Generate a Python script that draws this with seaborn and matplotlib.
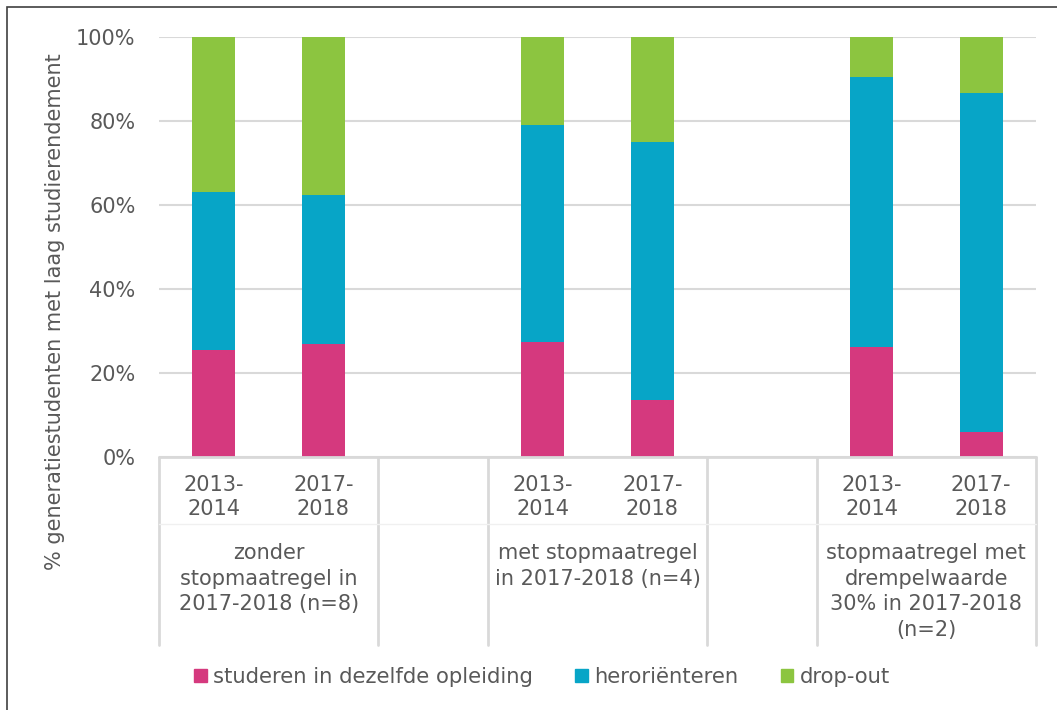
import numpy as np
import matplotlib.pyplot as plt
import matplotlib.patches as mpatches
import pandas as pd
import seaborn as sns

sns.set_theme(style="white")
plt.rcParams['font.family'] = ['DejaVu Sans']

# data (percentages)
positions = [0, 1, 3, 4, 6, 7]
years = ['2013-\n2014', '2017-\n2018'] * 3
groups = ['zonder\nstopmaatregel in\n2017-2018 (n=8)',
          'met stopmaatregel\nin 2017-2018 (n=4)',
          'stopmaatregel met\ndrempelwaarde\n30% in 2017-2018\n(n=2)']
studeren = [25.5, 26.9, 27.4, 13.6, 26.2, 6.0]
heroriënteren = [37.6, 35.5, 51.6, 61.4, 64.3, 80.7]
dropout = [36.9, 37.6, 21.0, 25.0, 9.5, 13.3]

series = ['studeren in dezelfde opleiding', 'heroriënteren', 'drop-out']
colors = ['#D5397E', '#07A5C7', '#8CC540']
text_col = '#595959'
grid_col = '#D9D9D9'

df = pd.DataFrame({'pos': positions, series[0]: studeren,
                   series[1]: heroriënteren, series[2]: dropout})

W, H = 1057, 710
fig = plt.figure(figsize=(W / 100, H / 100), dpi=100)
ax = fig.add_axes([159 / W, 1 - 457 / H, (1036 - 159) / W, (457 - 37) / H])

# stacked bars: draw cumulative totals from top to bottom
cum = df[series].cumsum(axis=1)
for s, c in reversed(list(zip(series, colors))):
    sns.barplot(x=df['pos'], y=cum[s], native_scale=True, color=c,
                width=0.39, saturation=1, ax=ax, linewidth=0, zorder=3)

ax.set_xlim(-0.5, 7.5)
ax.set_ylim(0, 100)
ax.set_yticks(np.arange(0, 101, 20))
ax.set_yticklabels([f'{v}%' for v in range(0, 101, 20)])
ax.yaxis.grid(True, color=grid_col, lw=1.5, zorder=0)
ax.xaxis.grid(False)
for sp in ax.spines.values():
    sp.set_visible(False)
ax.tick_params(axis='y', length=0, pad=17, labelsize=15, labelcolor=text_col)
ax.set_xticks(positions)
ax.set_xticklabels(years, fontsize=15, color=text_col, linespacing=1.25)
ax.tick_params(axis='x', length=0, pad=13)
ax.set_xlabel('')
ax.set_ylabel('')

# bottom axis line
ax.axhline(0, color=grid_col, lw=2, zorder=4, clip_on=False)

# group separators and faint divider line
trans = ax.get_xaxis_transform()
ax_h = (457 - 37)
for xs in [-0.5, 1.5, 2.5, 4.5, 5.5, 7.5]:
    ax.plot([xs, xs], [0, -(645 - 457) / ax_h], transform=trans,
            color=grid_col, lw=2, clip_on=False)
ax.plot([-0.5, 7.5], [-(524 - 457) / ax_h] * 2, transform=trans,
        color='#F0F0F0', lw=1, clip_on=False)

# group labels
for gx, label in zip([0.5, 3.5, 6.5], groups):
    ax.text(gx, -(543 - 457) / ax_h, label, transform=trans, ha='center',
            va='top', fontsize=15, color=text_col, linespacing=1.35)

# y label
fig.text(55 / W, 1 - 312 / H, '% generatiestudenten met laag studierendement',
         rotation=90, ha='center', va='center', fontsize=15, color=text_col)

# legend
handles = [mpatches.Patch(color=c, label=s) for s, c in zip(series, colors)]
fig.legend(handles=handles, loc='center', bbox_to_anchor=(542 / W, 1 - 677 / H),
           ncol=3, frameon=False, handlelength=0.6, handleheight=0.6,
           handletextpad=0.3, columnspacing=2.0,
           prop={'size': 15.2}, labelcolor=text_col)

# outer frame
fig.patches.append(mpatches.Rectangle((7 / W, -0.1), 1.2, 1 - 7 / H + 0.1,
                                      transform=fig.transFigure, fill=False,
                                      edgecolor='#404040', lw=1.2))

fig.savefig('out.png', dpi=100)
